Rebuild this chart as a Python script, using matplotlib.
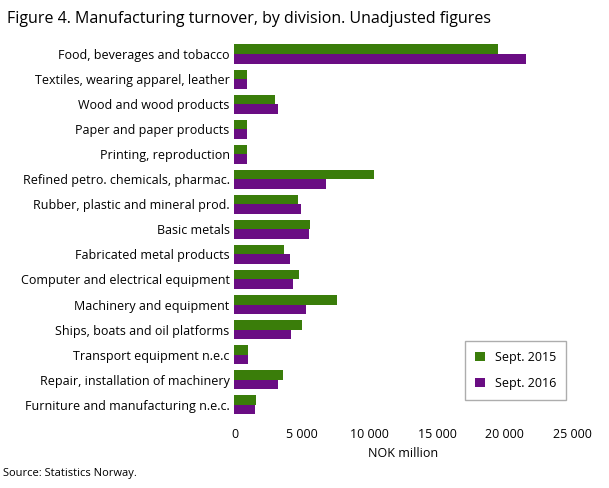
import matplotlib
matplotlib.use("Agg")
import matplotlib.pyplot as plt
import numpy as np

plt.rcParams['font.family'] = ['Open Sans', 'DejaVu Sans']

categories = ["Food, beverages and tobacco", "Textiles, wearing apparel, leather",
    "Wood and wood products", "Paper and paper products", "Printing, reproduction",
    "Refined petro. chemicals, pharmac.", "Rubber, plastic and mineral prod.",
    "Basic metals", "Fabricated metal products", "Computer and electrical equipment",
    "Machinery and equipment", "Ships, boats and oil platforms",
    "Transport equipment n.e.c", "Repair, installation of machinery",
    "Furniture and manufacturing n.e.c."]
sept2015 = [19500, 900, 3000, 900, 900, 10300, 4700, 5600, 3700, 4800, 7600, 5000, 1000, 3600, 1600]
sept2016 = [21600, 900, 3200, 900, 900, 6800, 4900, 5500, 4100, 4300, 5300, 4200, 1000, 3200, 1500]

fig = plt.figure(figsize=(6.09, 4.88), dpi=100)
ax = fig.add_axes([0.385, 0.145, 0.555, 0.77])
y = np.arange(len(categories))
h = 0.38
ax.barh(y - h/2, sept2015, h, color='#3a7d0a', label='Sept. 2015')
ax.barh(y + h/2, sept2016, h, color='#6a0d83', label='Sept. 2016')
ax.set_yticks(y)
ax.set_yticklabels(categories, fontsize=9)
ax.set_ylim(len(categories) - 0.5, -0.5)
ax.set_xlim(0, 25000)
ax.set_xticks(range(0, 25001, 5000))
ax.set_xticklabels(['0', '5 000', '10 000', '15 000', '20 000', '25 000'], fontsize=9)
ax.set_xlabel('NOK million', fontsize=9)
for s in ['top', 'right', 'left', 'bottom']:
    ax.spines[s].set_visible(False)
ax.tick_params(axis='y', length=0)
ax.tick_params(axis='x', length=0, pad=8)
ax.legend(loc='lower right', bbox_to_anchor=(1.0, 0.03), fontsize=9, frameon=True,
          fancybox=False, edgecolor='#999999', handlelength=0.8, labelspacing=1.0,
          borderpad=0.8)
fig.text(0.012, 0.962, 'Figure 4. Manufacturing turnover, by division. Unadjusted figures', fontsize=11.5, va='center')
fig.text(0.005, 0.018, 'Source: Statistics Norway.', fontsize=8, va='bottom')
fig.savefig('out.png', dpi=100)
